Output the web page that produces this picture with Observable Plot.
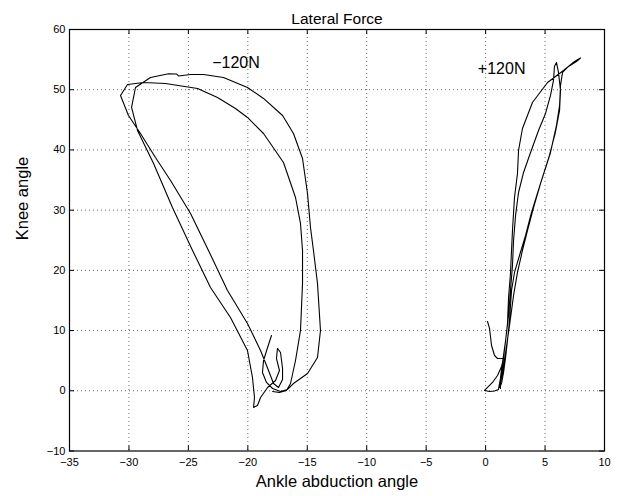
<!DOCTYPE html>
<html><head><meta charset="utf-8">
<script src="https://cdn.jsdelivr.net/npm/d3@7"></script>
<script src="https://cdn.jsdelivr.net/npm/@observablehq/plot@0.6"></script>
<style>body{margin:0;background:#fff} svg{font-family:"Liberation Sans",Arial,sans-serif}</style>
</head><body><div id="chart"></div>
<script>
const xTicks = [-35,-30,-25,-20,-15,-10,-5,0,5,10];
const yTicks = [-10,0,10,20,30,40,50,60];

// -120N trajectory (ankle abduction angle, knee angle)
const negX = [-18.01,-18.34,-18.68,-18.77,-18.43,-17.92,-17.25,-16.66,-16.16,-14.98,
  -14.14,-13.89,-14.14,-14.48,-14.73,-14.98,-15.40,-16.16,-17.08,-18.68,
  -20.03,-22.05,-23.73,-24.82,-25.83,-26.00,-26.67,-28.19,-29.45,-29.78,
  -29.28,-27.93,-26.34,-24.65,-23.14,-21.46,-20.03,-19.61,-19.44,-19.52,
  -19.19,-18.93,-18.34,-17.67,-17.34,-17.59,-17.51,-17.25,-17.08,-17.08,
  -17.42,-17.84,-18.26,-18.93,-20.03,-21.71,-23.31,-24.82,-26.50,-27.77,
  -29.03,-30.04,-30.71,-30.12,-28.77,-26.92,-24.23,-22.55,-21.04,-20.03,
  -18.68,-17.00,-15.99,-15.57,-15.40,-15.40,-15.57,-15.99,-16.41,-16.75,
  -17.34,-17.92];
const negY = [9.18,7.19,5.03,3.04,1.38,0.38,-0.12,0.22,1.21,2.87,
  5.53,10.02,17.82,23.30,27.12,32.77,38.58,42.73,45.72,48.55,
  50.37,52.04,52.53,52.53,52.28,52.62,52.65,52.04,50.37,47.05,
  43.23,37.75,30.44,23.30,17.16,12.17,6.69,2.21,-1.11,-2.77,
  -2.44,-1.11,0.55,1.71,3.37,5.36,7.03,6.36,3.70,1.88,
  0.55,1.21,3.37,6.69,11.18,16.66,23.30,29.45,34.93,38.75,
  42.73,45.72,49.05,50.87,51.20,51.04,50.21,48.71,46.89,45.39,
  42.73,37.92,32.10,27.79,23.30,17.82,10.02,5.03,1.21,0.05,
  -0.28,-0.12];

// +120N trajectory
const posX = [0.16,0.33,0.50,0.75,1.00,1.51,1.34,1.00,0.58,0.16,
  -0.09,0.33,0.75,1.08,1.17,1.34,1.51,1.68,1.84,1.93,
  2.09,2.18,2.26,2.43,2.68,2.77,3.10,3.94,5.21,6.55,
  7.48,7.98,7.64,6.97,6.47,6.30,6.22,5.96,5.46,4.62,
  3.86,3.36,2.85,2.43,2.18,2.01,1.84,1.68,1.51,1.34,
  1.17,1.42,1.68,2.01,2.35,2.68,3.10,3.52,4.03,4.70,
  5.37,5.87,6.22,6.30,6.13,5.96,5.79,5.71,5.46,5.04,
  4.45,3.78,3.19,2.77,2.52,2.35,2.26,2.09,1.93,1.68,
  1.42,1.25,1.25];
const posY = [11.51,10.35,7.52,5.86,5.36,5.36,4.04,2.54,1.38,0.55,
  0.05,-0.12,-0.03,0.22,1.21,3.04,5.53,8.35,11.18,15.50,
  19.48,23.30,26.62,32.10,36.09,39.91,43.56,47.88,51.20,53.19,
  54.69,55.27,54.69,53.86,52.87,50.71,47.38,44.06,39.58,34.43,
  29.62,25.79,22.47,19.65,16.66,11.68,8.35,5.53,3.04,1.21,
  0.55,3.04,6.36,10.85,15.83,19.65,23.30,26.62,30.44,34.93,
  39.08,42.90,46.55,49.88,52.87,54.53,53.86,51.54,49.05,46.06,
  43.23,39.58,36.26,32.93,29.12,24.96,20.81,16.66,12.51,8.35,
  4.70,2.21,0.38];

const annTexts = ["\u2212120N", "+120N"];
const annX = [-21.0, 1.35];
const annY = [54.5, 53.5];

const titleText = "Lateral Force";
const xLabel = "Ankle abduction angle";
const yLabel = "Knee angle";

const neg = negX.map((x, i) => ({x, y: negY[i]}));
const pos = posX.map((x, i) => ({x, y: posY[i]}));
const ann = annTexts.map((t, i) => ({t, x: annX[i], y: annY[i]}));

const W = 618, H = 496, mL = 69, mR = 14, mT = 29, mB = 45.5;
const fh = H - mT - mB, fw = W - mL - mR, tk = 5;
const font = "Liberation Sans, Arial, Helvetica, sans-serif";

const chart = Plot.plot({
  width: W, height: H,
  marginLeft: mL, marginRight: mR, marginTop: mT, marginBottom: mB,
  style: {fontFamily: font, fontSize: "11px", background: "white", color: "black", overflow: "visible"},
  x: {domain: [-35, 10]},
  y: {domain: [-10, 60]},
  marks: [
    Plot.ruleX(xTicks.slice(1, -1), {x: d => d, stroke: "#000", strokeOpacity: 0.6, strokeDasharray: "1,3"}),
    Plot.ruleY(yTicks.slice(1, -1), {y: d => d, stroke: "#000", strokeOpacity: 0.6, strokeDasharray: "1,3"}),
    Plot.ruleX(xTicks, {x: d => d, insetTop: fh - tk, stroke: "#000"}),
    Plot.ruleX(xTicks, {x: d => d, insetBottom: fh - tk, stroke: "#000"}),
    Plot.ruleY(yTicks, {y: d => d, insetRight: fw - tk, stroke: "#000"}),
    Plot.ruleY(yTicks, {y: d => d, insetLeft: fw - tk, stroke: "#000"}),
    Plot.axisX({ticks: xTicks, tickSize: 0, tickPadding: 7, label: null, fontSize: 11}),
    Plot.axisY({ticks: yTicks, tickSize: 0, tickPadding: 4, label: null, fontSize: 11}),
    Plot.line(neg, {x: "x", y: "y", stroke: "black", strokeWidth: 1.1}),
    Plot.line(pos, {x: "x", y: "y", stroke: "black", strokeWidth: 1.1}),
    Plot.text(ann, {x: "x", y: "y", text: "t", fontSize: 16, fill: "black"}),
    Plot.text([titleText], {text: d => d, frameAnchor: "top", dy: -17, fontSize: 15.5, fill: "black"}),
    Plot.text([xLabel], {text: d => d, frameAnchor: "bottom", dy: 36, fontSize: 16.5, fill: "black"}),
    Plot.text([yLabel], {text: d => d, frameAnchor: "left", dx: -47, rotate: -90, fontSize: 16.5, fill: "black"}),
    Plot.frame({stroke: "black", strokeWidth: 1.2})
  ]
});
document.getElementById("chart").appendChild(chart);
</script>
</body></html>
